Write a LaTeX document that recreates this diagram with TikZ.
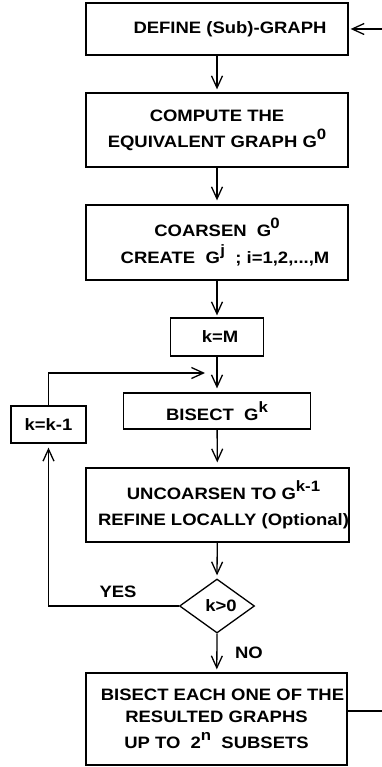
\documentclass[tikz,border=0pt]{standalone}
\usepackage{fontspec}
\setmainfont{Liberation Sans}[FakeStretch=1.12]
\usetikzlibrary{arrows.meta,shapes.geometric}
\newcommand{\sps}[1]{\raisebox{8pt}{\fontsize{15}{15}\selectfont #1}}
\begin{document}
\begin{tikzpicture}[x=1pt,y=-1pt,
  font=\fontsize{16.5}{22}\selectfont\bfseries,
  line width=1.3pt,
  box/.style={draw, rectangle, inner sep=0pt, align=center},
  arr/.style={-{Straight Barb[length=12pt,width=11pt]}},
  lbl/.style={inner sep=0pt}]
\useasboundingbox (0,0) rectangle (382,767);

\node[box, minimum width=262pt, minimum height=52pt] (b1) at (217,29)
  {\hspace*{26pt}DEFINE (Sub)-GRAPH};
\node[box, minimum width=262pt, minimum height=74pt] (b2) at (217,130)
  {COMPUTE THE\\[4pt]EQUIVALENT GRAPH G\sps{0}};
\node[box, minimum width=262pt, minimum height=75pt] (b3) at (217,242.5)
  {COARSEN\ \ G\hspace{-1pt}\sps{0}\\[5pt]\hspace*{16pt}CREATE\ \ G\hspace{0.5pt}\sps{j}\ \ ; i=1,2,...,M};
\node[box, minimum width=93pt, minimum height=38pt] (b4) at (217,337)
  {\hspace*{6pt}k=M};
\node[box, minimum width=187pt, minimum height=36pt] (b5) at (217,411)
  {BISECT\ \ G\sps{k}};
\node[box, minimum width=75pt, minimum height=37pt] (kk) at (48.5,424.5)
  {k=k-1};
\node[box, minimum width=263pt, minimum height=74pt] (b6) at (217.5,505)
  {\hspace*{12pt}UNCOARSEN TO G\sps{k-1}\\[4pt]\hspace*{12pt}REFINE LOCALLY (Optional)};
\node[draw, diamond, minimum width=75pt, minimum height=54pt, inner sep=0pt] (dia) at (217,606)
  {\hspace*{8pt}k>0};
\node[box, minimum width=261pt, minimum height=92pt] (b7) at (216.5,719)
  {\hspace*{12pt}BISECT EACH ONE OF THE\\RESULTED GRAPHS\\[4pt]UP TO\ \ 2\sps{n}\ \ SUBSETS};

\node[lbl] (yes) at (118,592) {YES};
\node[lbl] (no) at (249,653) {NO};

\coordinate (inR) at (382,29);
\coordinate (outR) at (382,711);
\coordinate (loopEnd) at (205,373);

\draw[arr, shorten >=2pt] (inR) -- (b1.east);
\draw[arr, shorten >=3pt] (b1) -- (b2);
\draw[arr, shorten >=4pt] (b2) -- (b3);
\draw[arr, shorten >=2pt] (b3) -- (b4);
\draw[arr, shorten >=4pt] (b4) -- (b5);
\draw[arr, shorten >=5pt] (b5) -- (b6);
\draw[arr, shorten >=3pt] (b6) -- (dia.north);
\draw[arr, shorten >=3pt] (dia.south) -- (b7);
\draw[arr, shorten >=4pt] (dia.west) -| (kk.south);
\draw[arr] (kk.north) |- (loopEnd);
\draw (outR -| b7.east) -- (outR);
\end{tikzpicture}
\end{document}
